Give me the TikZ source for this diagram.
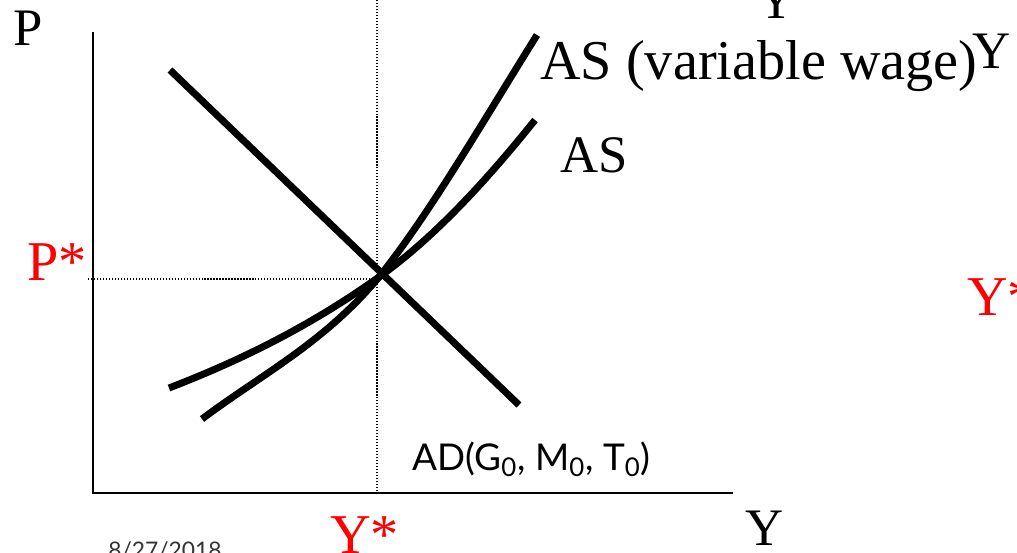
\documentclass[tikz,border=0pt]{standalone}
\usepackage{fontspec}
\setmainfont{Liberation Serif}
\newfontfamily\gillfont{Lato}
\usetikzlibrary{positioning}
\definecolor{starred}{RGB}{255,0,0}

\begin{document}
\begin{tikzpicture}[x=0.02cm, y=-0.02cm,
  lbl/.style={anchor=base west, inner sep=0pt, font=\fontsize{30}{30}\selectfont},
  star/.style={lbl, text=starred, font=\fontsize{32}{32}\selectfont},
  axis/.style={line width=1.6pt},
  curve/.style={line width=4pt},
  guide/.style={densely dotted, line width=0.7pt}]
\useasboundingbox (0,0) rectangle (1017,552);
\clip (0,0) rectangle (1017,552);
% axes
\coordinate (O)    at (93,493);
\coordinate (ytop) at (93,32);
\coordinate (xend) at (733,493);
\coordinate (eq)   at (379,277);
\coordinate (dtop) at (377,0);
\coordinate (dbot) at (377,493);
\coordinate (dlft) at (88,279);
\coordinate (dmid) at (377,279);
\draw[axis] (ytop) -- (O) -- (xend);
\draw[guide] (dtop) -- (dbot);
\draw[guide] (dlft) -- (dmid);
% curves
\coordinate (adL) at (170,70);
\coordinate (adR) at (519,405);
\coordinate (asL) at (169,388);
\coordinate (asR) at (535,120);
\coordinate (vwL) at (202,419);
\coordinate (vwR) at (537,35);
\draw[curve] (adL) -- (adR);
\draw[curve] (asL) .. controls (239,361) and (309,327) .. (eq)
                   .. controls (431,240) and (483,185) .. (asR);
\draw[curve] (vwL) .. controls (262,374) and (324,343) .. (eq)
                   .. controls (429,215) and (485,118) .. (vwR);
% labels
\node[lbl] (plbl) at (13,45) {P};
\node[lbl, font=\fontsize{32}{32}\selectfont] (vwlbl) at (540,79) {AS (variable wage)};
\node[lbl] (ytrail) at (972,68) {Y};
\node[lbl] (ytopl) at (757,18) {Y};
\node[lbl] (aslbl) at (560,172) {AS};
\node[star] (pstar) at (27,280) {P*};
\node[star] (ystarR) at (967,315) {Y*};
\node[star] (ystarB) at (330,553) {Y*};
\node[lbl] (ylbl) at (745,545) {Y};
\node[lbl, font=\gillfont\fontsize{21}{21}\selectfont] (adlbl) at (412,470)
  {AD(G\textsubscript{0}, M\textsubscript{0}, T\textsubscript{0})};
\node[lbl, font=\gillfont\fontsize{13}{13}\selectfont, text=black!80] (date) at (108,558) {8/27/2018};
\end{tikzpicture}
\end{document}
